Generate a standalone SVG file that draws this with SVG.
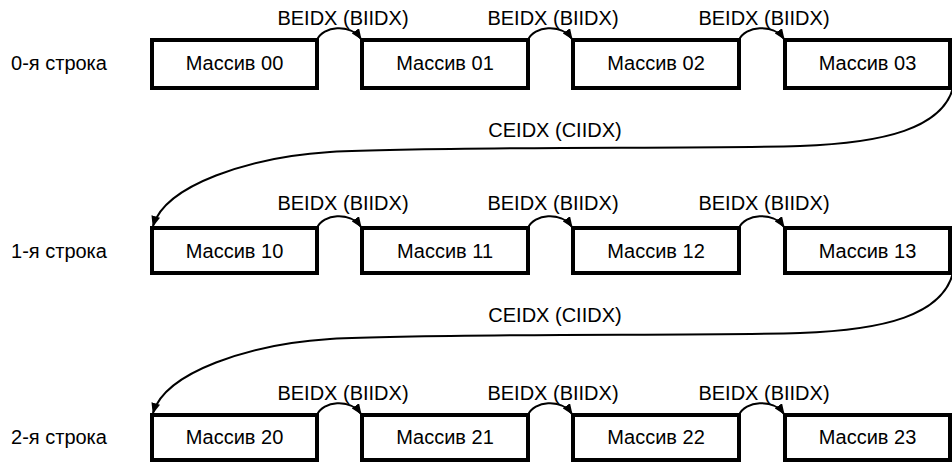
<svg xmlns="http://www.w3.org/2000/svg" width="952" height="464" viewBox="0 0 952 464">
<style>
text{font-family:"Liberation Sans",Arial,sans-serif;font-size:20px;fill:#000}
.c{text-anchor:middle}
.box{fill:#fff;stroke:#000;stroke-width:4}
.arc{fill:none;stroke:#000;stroke-width:2}
</style>
<defs>
<marker id="ah" markerUnits="userSpaceOnUse" markerWidth="11" markerHeight="9" refX="10" refY="4.5" orient="auto" viewBox="0 0 11 9">
<path d="M0,0 L11,4.5 L0,9 z" fill="#000"/>
</marker>
</defs>
<g id="row-labels">
<text class="c" x="59" y="70">0-я строка</text>
<text class="c" x="59" y="258">1-я строка</text>
<text class="c" x="59" y="444">2-я строка</text>
</g>
<g id="n00"><rect class="box" x="152" y="40" width="165" height="48"/><text class="c" x="234.5" y="70">Массив 00</text></g>
<g id="n01"><rect class="box" x="362" y="40" width="166" height="48"/><text class="c" x="445" y="70">Массив 01</text></g>
<g id="n02"><rect class="box" x="573" y="40" width="166" height="48"/><text class="c" x="656" y="70">Массив 02</text></g>
<g id="n03"><rect class="box" x="785" y="40" width="165" height="48"/><text class="c" x="867.5" y="70">Массив 03</text></g>
<g id="n10"><rect class="box" x="152" y="228" width="165" height="45"/><text class="c" x="234.5" y="258">Массив 10</text></g>
<g id="n11"><rect class="box" x="362" y="228" width="166" height="45"/><text class="c" x="445" y="258">Массив 11</text></g>
<g id="n12"><rect class="box" x="573" y="228" width="166" height="45"/><text class="c" x="656" y="258">Массив 12</text></g>
<g id="n13"><rect class="box" x="785" y="228" width="165" height="45"/><text class="c" x="867.5" y="258">Массив 13</text></g>
<g id="n20"><rect class="box" x="152" y="415" width="165" height="45"/><text class="c" x="234.5" y="444">Массив 20</text></g>
<g id="n21"><rect class="box" x="362" y="415" width="166" height="45"/><text class="c" x="445" y="444">Массив 21</text></g>
<g id="n22"><rect class="box" x="573" y="415" width="166" height="45"/><text class="c" x="656" y="444">Массив 22</text></g>
<g id="n23"><rect class="box" x="785" y="415" width="165" height="45"/><text class="c" x="867.5" y="444">Массив 23</text></g>
<g id="connectors">
<path class="arc" marker-end="url(#ah)" d="M317,40 C323,26 350,23 361,39"/>
<path class="arc" marker-end="url(#ah)" d="M528,40 C534,26 561,23 572,39"/>
<path class="arc" marker-end="url(#ah)" d="M739,40 C745,26 773,23 784,39"/>
<path class="arc" marker-end="url(#ah)" d="M317,228 C323,214 350,211 361,227"/>
<path class="arc" marker-end="url(#ah)" d="M528,228 C534,214 561,211 572,227"/>
<path class="arc" marker-end="url(#ah)" d="M739,228 C745,214 773,211 784,227"/>
<path class="arc" marker-end="url(#ah)" d="M317,415 C323,401 350,398 361,414"/>
<path class="arc" marker-end="url(#ah)" d="M528,415 C534,401 561,398 572,414"/>
<path class="arc" marker-end="url(#ah)" d="M739,415 C745,401 773,398 784,414"/>
<path class="arc" marker-end="url(#ah)" d="M953,88 C942,128 885,143 800,146 C700,149 450,146 330,152 C250,157 165,185 153,226"/>
<path class="arc" marker-end="url(#ah)" d="M953,273 C942,315 885,330 800,333 C700,336 450,333 330,339 C250,344 165,372 153,413"/>
<text class="c" x="343" y="25">BEIDX (BIIDX)</text>
<text class="c" x="553" y="25">BEIDX (BIIDX)</text>
<text class="c" x="764" y="25">BEIDX (BIIDX)</text>
<text class="c" x="343" y="210">BEIDX (BIIDX)</text>
<text class="c" x="553" y="210">BEIDX (BIIDX)</text>
<text class="c" x="764" y="210">BEIDX (BIIDX)</text>
<text class="c" x="343" y="400">BEIDX (BIIDX)</text>
<text class="c" x="553" y="400">BEIDX (BIIDX)</text>
<text class="c" x="764" y="400">BEIDX (BIIDX)</text>
<text class="c" x="555" y="137">CEIDX (CIIDX)</text>
<text class="c" x="555" y="322">CEIDX (CIIDX)</text>
</g>
</svg>
